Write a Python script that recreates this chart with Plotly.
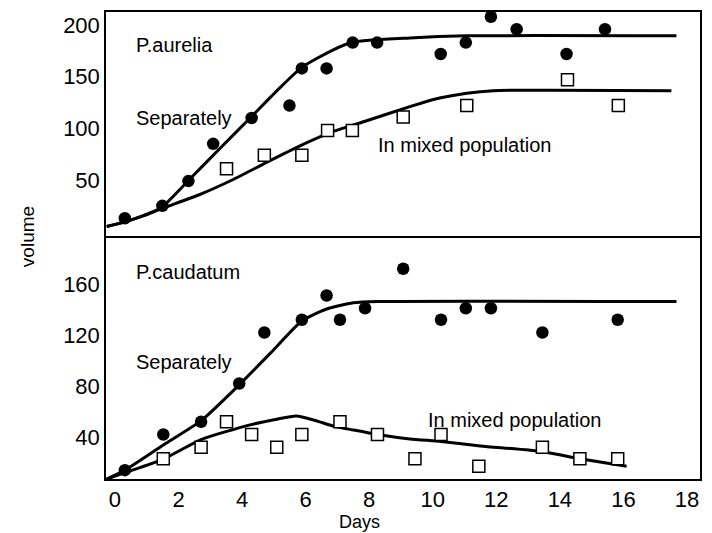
import plotly.graph_objects as go

# ---------------- data ----------------
x_ticks = [0, 2, 4, 6, 8, 10, 12, 14, 16, 18]
y_ticks_top = [50, 100, 150, 200]
y_ticks_bottom = [40, 80, 120, 160]

# P. aurelia, grown separately (filled circles)
aur_sep_days = [0.31, 1.49, 2.31, 3.09, 4.30, 5.49, 5.88, 6.66, 7.48, 8.25,
                10.25, 11.04, 11.83, 12.64, 14.21, 15.42]
aur_sep_vol = [13, 25, 49, 85, 110, 122, 158, 158, 183, 183,
               172, 183, 208, 196, 172, 196]
# P. aurelia, mixed population (open squares)
aur_mix_days = [3.51, 4.70, 5.88, 6.69, 7.47, 9.07, 11.07, 14.24, 15.84]
aur_mix_vol = [61, 74, 74, 98, 98, 111, 122, 147, 122]

# fitted curves, P. aurelia
aur_sep_curve_days = [-0.26, 0.31, 0.9, 1.48, 2.31, 3.3, 4.30, 5.1, 5.88, 6.87, 7.5, 9.28, 11.07, 17.67]
aur_sep_curve_vol = [5, 9.5, 15.5, 24, 49.5, 80.5, 111.5, 136.5, 159, 176, 183.5, 187.5, 189.5, 189.5]
aur_mix_curve_days = [-0.26, 0.31, 0.9, 1.49, 2.67, 3.72, 4.77, 5.82, 6.87, 7.92, 9.28, 10.02, 11.07, 11.9, 17.51]
aur_mix_curve_vol = [5, 9.5, 15.5, 22.6, 36, 50.5, 67, 83, 97, 107.4, 121, 128, 134, 136.5, 136.5]

# P. caudatum, grown separately (filled circles)
cau_sep_days = [0.31, 1.52, 2.71, 3.91, 4.70, 5.88, 6.66, 7.08, 7.87, 9.07,
                10.26, 11.04, 11.83, 13.45, 15.82]
cau_sep_vol = [14, 42, 52, 82, 122, 132, 151, 132, 141, 172,
               132, 141, 141, 122, 132]
# P. caudatum, mixed population (open squares)
cau_mix_days = [1.52, 2.71, 3.51, 4.30, 5.09, 5.88, 7.08, 8.26, 9.44,
                10.26, 11.45, 13.45, 14.63, 15.82]
cau_mix_vol = [23, 32, 52, 42, 32, 42, 52, 42, 23,
               42, 17, 32, 23, 23]

# fitted curves, P. caudatum
cau_sep_curve_days = [-0.26, 0.31, 1.52, 2.71, 3.91, 4.9, 5.88, 6.66, 7.5, 8.3, 17.67]
cau_sep_curve_vol = [7, 14, 33.7, 52.8, 81, 106, 131, 140.4, 145.3, 146.3, 146.3]
cau_mix_curve_days = [-0.26, 0.31, 1.52, 2.71, 4.25, 5.09, 5.7, 6.3, 6.87, 7.5,
                      8.26, 9.28, 10.26, 11.5, 13.45, 14.63, 16.1]
cau_mix_curve_vol = [7, 12, 22.7, 38, 49.5, 54, 56.5, 53, 48.6, 45.5,
                     42, 38.5, 36.5, 33, 28.5, 23, 17]

FONT = "Liberation Sans, Arial, Helvetica, sans-serif"
BLACK = "#000000"

fig = go.Figure()

def curve(xs, ys, xa, ya):
    fig.add_trace(go.Scatter(x=xs, y=ys, mode="lines", xaxis=xa, yaxis=ya,
                             line=dict(color=BLACK, width=3, shape="spline", smoothing=0.6),
                             hoverinfo="skip", showlegend=False))

def dots(xs, ys, xa, ya):
    fig.add_trace(go.Scatter(x=xs, y=ys, mode="markers", xaxis=xa, yaxis=ya,
                             marker=dict(symbol="circle", size=12.5, color=BLACK,
                                         line=dict(width=0)),
                             cliponaxis=False, showlegend=False))

def squares(xs, ys, xa, ya):
    fig.add_trace(go.Scatter(x=xs, y=ys, mode="markers", xaxis=xa, yaxis=ya,
                             marker=dict(symbol="square", size=12, color="white",
                                         line=dict(width=1.5, color=BLACK)),
                             cliponaxis=False, showlegend=False))

# top panel: P. aurelia
curve(aur_sep_curve_days, aur_sep_curve_vol, "x2", "y2")
curve(aur_mix_curve_days, aur_mix_curve_vol, "x2", "y2")
dots(aur_sep_days, aur_sep_vol, "x2", "y2")
squares(aur_mix_days, aur_mix_vol, "x2", "y2")

# bottom panel: P. caudatum
curve(cau_sep_curve_days, cau_sep_curve_vol, "x", "y")
curve(cau_mix_curve_days, cau_mix_curve_vol, "x", "y")
dots(cau_sep_days, cau_sep_vol, "x", "y")
squares(cau_mix_days, cau_mix_vol, "x", "y")

axis_common = dict(showline=True, linecolor=BLACK, linewidth=1.5,
                   showgrid=False, zeroline=False, ticks="",
                   tickfont=dict(family=FONT, size=22, color=BLACK))

split = 241 / 467

fig.update_layout(
    width=712, height=533,
    # page body adds an 8px offset; margins compensate so the frame sits at
    # x 106..700, y 12..479 in the window
    margin=dict(l=98, r=20, t=4, b=62, autoexpand=False),
    paper_bgcolor="white", plot_bgcolor="white",
    font=dict(family=FONT, color=BLACK),
    xaxis=dict(domain=[0, 1], anchor="y", range=[-0.283, 18.41], mirror=True,
               tickvals=x_ticks, **axis_common),
    xaxis2=dict(domain=[0, 1], anchor="y2", range=[-0.283, 18.41], matches="x",
                side="top", mirror=False, showticklabels=False, **axis_common),
    yaxis=dict(domain=[0, split], anchor="x", range=[7.06, 196.1], mirror=True,
               tickvals=y_ticks_bottom, **axis_common),
    yaxis2=dict(domain=[split, 1], anchor="x2", range=[-6.1, 212.6], mirror=True,
                tickvals=y_ticks_top, **axis_common),
)

ann_font = dict(family=FONT, size=20, color=BLACK)
labels = [
    ("P.aurelia", 0.63, 180.7, "x2", "y2"),
    ("Separately", 0.63, 110, "x2", "y2"),
    ("In mixed population", 8.24, 84, "x2", "y2"),
    ("P.caudatum", 0.63, 169.4, "x", "y"),
    ("Separately", 0.63, 98.8, "x", "y"),
    ("In mixed population", 9.82, 53.3, "x", "y"),
]
for txt, lx, ly, xr, yr in labels:
    fig.add_annotation(text=txt, x=lx, y=ly, xref=xr, yref=yr,
                       xanchor="left", yanchor="middle", showarrow=False,
                       font=ann_font, borderpad=0)

fig.add_annotation(text="Days", xref="paper", yref="paper", x=0.4276, y=-0.092,
                   xanchor="center", yanchor="middle", showarrow=False,
                   font=dict(family=FONT, size=18, color=BLACK))
fig.add_annotation(text="volume", xref="paper", yref="paper", x=-0.133, y=0.52,
                   xanchor="center", yanchor="middle", showarrow=False, textangle=-90,
                   font=dict(family=FONT, size=19, color=BLACK))

fig.write_html("out.html")
